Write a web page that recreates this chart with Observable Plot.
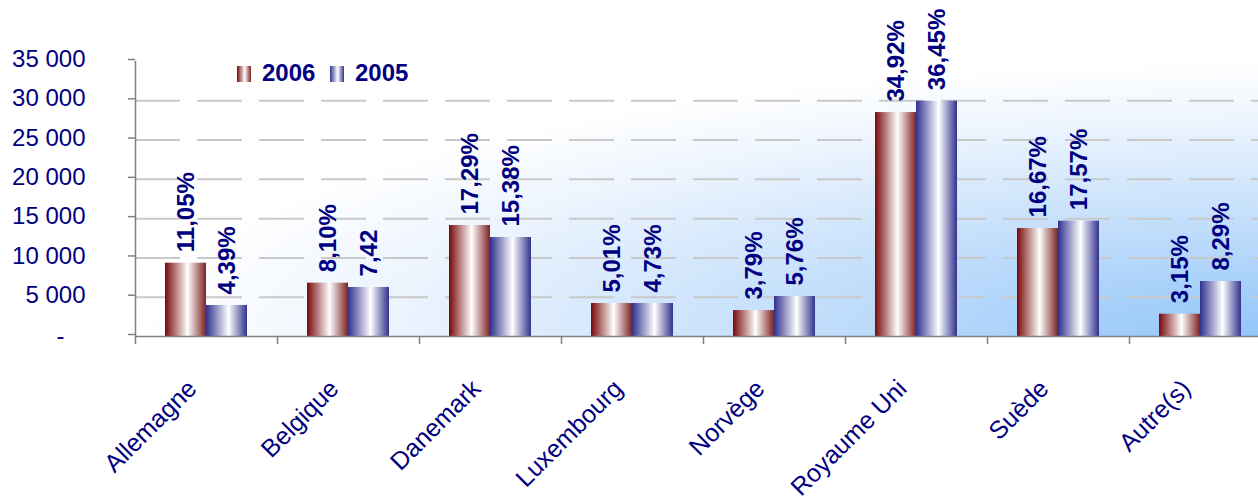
<!DOCTYPE html>
<html>
<head>
<meta charset="utf-8">
<script src="https://cdn.jsdelivr.net/npm/d3@7"></script>
<script src="https://cdn.jsdelivr.net/npm/@observablehq/plot@0.6"></script>
<style>
  html, body { margin: 0; padding: 0; overflow: hidden; background: #fff; }
  #wrap { position: relative; width: 1258px; height: 496px; overflow: hidden; }
  #wrap svg { max-width: none !important; width: 1272px !important; height: 496px !important; display: block; }
  .lg { position: absolute; font-family: "Liberation Sans", Arial, sans-serif; }
  .sw { width: 14px; height: 16px; }
  .txt { font-size: 24px; line-height: 24px; font-weight: bold; color: #000080; }
</style>
</head>
<body>
<div id="wrap"></div>
<script>
const countries = ["Allemagne", "Belgique", "Danemark", "Luxembourg", "Norvège", "Royaume Uni", "Suède", "Autre(s)"];
const values2006 = [9330, 6790, 14130, 4200, 3300, 28500, 13750, 2840];
const values2005 = [3950, 6240, 12600, 4200, 5090, 29950, 14680, 7000];
const labels2006 = ["11,05%", "8,10%", "17,29%", "5,01%", "3,79%", "34,92%", "16,67%", "3,15%"];
const labels2005 = ["4,39%", "7,42", "15,38%", "4,73%", "5,76%", "36,45%", "17,57%", "8,29%"];
const yTicks = [0, 5000, 10000, 15000, 20000, 25000, 30000, 35000];
const gridTicks = [5000, 10000, 15000, 20000, 25000, 30000];
const legendItems = ["2006", "2005"];

const rows = countries.map((c, i) => ({
  country: c, v2006: values2006[i], v2005: values2005[i], p2006: labels2006[i], p2005: labels2005[i]
}));

const fmt = d3.formatLocale({decimal: ",", thousands: " ", grouping: [3], currency: ["", ""]}).format(",");
const navy = "#000080";
const axisGray = "#808080";

const chart = Plot.plot({
  width: 1272,
  height: 496,
  marginLeft: 135,
  marginRight: 1,
  marginTop: 61,
  marginBottom: 160,
  style: {fontFamily: "'Liberation Sans', Arial, sans-serif", background: "transparent", overflow: "visible"},
  x: {type: "band", domain: countries, padding: 0, label: null},
  y: {domain: [0, 35000], label: null},
  marks: [
    Plot.frame({fill: "url(#bgGrad)", stroke: null}),
    Plot.gridY(gridTicks, {stroke: "#c9c9c9", strokeOpacity: 1, strokeWidth: 2, strokeDasharray: "45,17"}),
    Plot.barY(rows, {x: "country", y: "v2006", fill: "url(#g2006)", insetLeft: 30, insetRight: 71}),
    Plot.barY(rows, {x: "country", y: "v2005", fill: "url(#g2005)", insetLeft: 71, insetRight: 30}),
    Plot.text(rows, {x: "country", y: "v2006", text: "p2006", dx: -20.5, dy: -11, rotate: -90,
      textAnchor: "start", lineAnchor: "middle", fontSize: 24, fontWeight: "bold", fill: navy}),
    Plot.text(rows, {x: "country", y: "v2005", text: "p2005", dx: 20.5, dy: -11, rotate: -90,
      textAnchor: "start", lineAnchor: "middle", fontSize: 24, fontWeight: "bold", fill: navy}),
    Plot.frame({anchor: "left", stroke: axisGray, strokeWidth: 1.5}),
    Plot.ruleY([0], {stroke: axisGray, strokeWidth: 1.5}),
    Plot.axisY({ticks: yTicks, tickFormat: d => d === 0 ? "" : fmt(d), tickSize: 7, tickPadding: 43,
      fontSize: 24, fill: navy, stroke: axisGray, strokeWidth: 1.5, dy: -2, label: null}),
    Plot.text(["-"], {text: d => d, frameAnchor: "bottom-left", dx: -79, fontSize: 24, fill: navy, lineAnchor: "middle"}),
    Plot.axisX({tickSize: 8, dx: -71, tickFormat: () => "", stroke: axisGray, strokeWidth: 1.5, label: null}),
    Plot.text(countries, {x: d => d, text: d => d, frameAnchor: "bottom", dx: -14, dy: 48, rotate: -45,
      textAnchor: "end", lineAnchor: "middle", fontSize: 25, fill: navy})
  ]
});

const defs = `
<defs>
  <radialGradient id="bgGrad" cx="1" cy="1" r="1" fx="1" fy="1">
    <stop offset="0" stop-color="#92c5f9"/>
    <stop offset="0.45" stop-color="#c6e0fb"/>
    <stop offset="0.8" stop-color="#eef5fe"/>
    <stop offset="1" stop-color="#ffffff"/>
  </radialGradient>
  <linearGradient id="g2006" x1="0" y1="0" x2="1" y2="0">
    <stop offset="0" stop-color="#780808"/>
    <stop offset="0.55" stop-color="#ffffff"/>
    <stop offset="1" stop-color="#7d2222"/>
  </linearGradient>
  <linearGradient id="g2005" x1="0" y1="0" x2="1" y2="0">
    <stop offset="0" stop-color="#303090"/>
    <stop offset="0.55" stop-color="#ffffff"/>
    <stop offset="1" stop-color="#32328e"/>
  </linearGradient>
</defs>`;
chart.insertAdjacentHTML("afterbegin", defs);

const wrap = document.getElementById("wrap");
wrap.appendChild(chart);

const swatchCss = {
  "2006": "linear-gradient(to right, #780808, #ffffff 55%, #7d2222)",
  "2005": "linear-gradient(to right, #303090, #ffffff 55%, #32328e)"
};
const legendX = [237, 330];
legendItems.forEach((k, i) => {
  const sw = document.createElement("div");
  sw.className = "lg sw";
  sw.style.left = legendX[i] + "px";
  sw.style.top = "66px";
  sw.style.background = swatchCss[k];
  wrap.appendChild(sw);
  const t = document.createElement("div");
  t.className = "lg txt";
  t.style.left = (legendX[i] + 25) + "px";
  t.style.top = "61px";
  t.textContent = k;
  wrap.appendChild(t);
});
</script>
</body>
</html>
